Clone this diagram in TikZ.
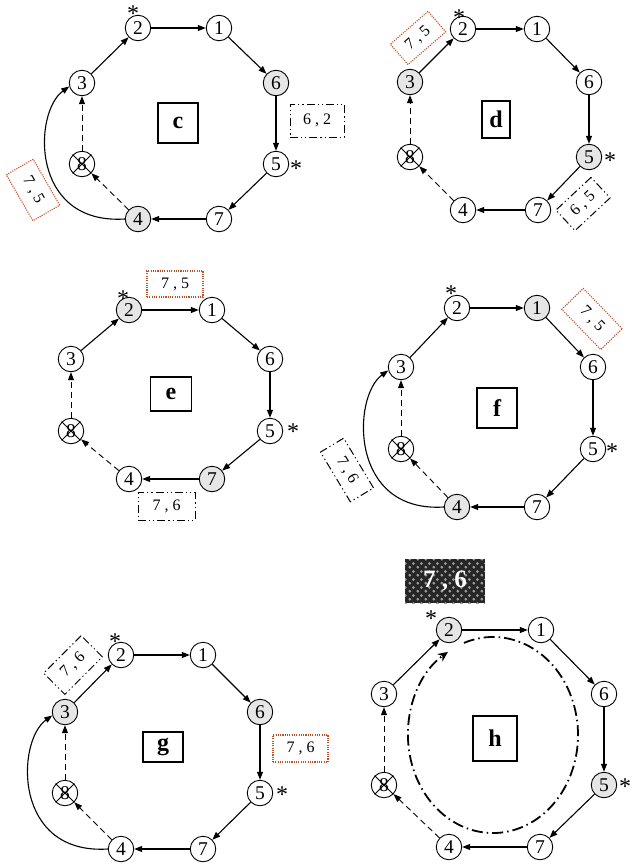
\documentclass[tikz,border=0pt]{standalone}
\usepackage{fontspec}
\setmainfont{Liberation Serif}
\usetikzlibrary{arrows.meta,patterns.meta}
\definecolor{boxred}{RGB}{192,80,40}
\definecolor{ndgray}{RGB}{230,230,230}
\tikzdeclarepattern{
  name=balls,
  type=uncolored,
  bounding box={(0pt,0pt) and (8pt,8pt)},
  tile size={(8pt,8pt)},
  code={\fill (2pt,2pt) circle (1.7pt); \fill (6pt,6pt) circle (1.7pt);}
}
\tikzset{
  nd/.style={circle, draw, line width=0.9pt, minimum size=25.5pt, inner sep=0pt, font=\fontsize{19.5}{19.5}\selectfont},
  gnd/.style={nd, fill=ndgray},
  lbl/.style={draw, line width=1.2pt, inner sep=0pt, font=\fontsize{24}{24}\selectfont\bfseries},
  ar/.style={-{Triangle[length=8pt,width=6pt]}, line width=1.1pt},
  dar/.style={-{Triangle[length=8pt,width=6pt]}, line width=0.9pt, dash pattern=on 6pt off 4pt},
  xline/.style={line width=0.8pt},
  redbox/.style={draw=boxred, line width=1.1pt, dash pattern=on 1.1pt off 1.2pt, inner sep=0pt, font=\fontsize{16}{16}\selectfont},
  ddbox/.style={draw, line width=1pt, dash pattern=on 8pt off 3pt on 1.2pt off 3pt on 1.2pt off 3pt, inner sep=0pt, font=\fontsize{16}{16}\selectfont},
  star/.style={inner sep=0pt, font=\fontsize{24}{24}\selectfont},
}
\newcommand\ringedges[1]{%
  \draw[ar] (#1-3) -- (#1-2);
  \draw[ar] (#1-2) -- (#1-1);
  \draw[ar] (#1-1) -- (#1-6);
  \draw[ar] (#1-6) -- (#1-5);
  \draw[ar] (#1-5) -- (#1-7);
  \draw[ar] (#1-7) -- (#1-4);
  \draw[dar] (#1-8) -- (#1-3);
  \draw[dar] (#1-4) -- (#1-8);
  \draw[xline] (#1-8.45) -- (#1-8.225) (#1-8.135) -- (#1-8.-45);
}
\newcommand\backarc[1]{%
  \draw[ar] (#1-4.west) .. controls +(-95,6) and +(-36,26) .. (#1-3.195);
}
\begin{document}
\begin{tikzpicture}[x=1pt,y=-1pt]
\useasboundingbox (0,0) rectangle (632,865);

% ---------------- panel c ----------------
\node[nd]  (c-2) at (138,28) {2};
\node[nd]  (c-1) at (219,28) {1};
\node[gnd] (c-6) at (276,83) {6};
\node[nd]  (c-5) at (276,164) {5};
\node[nd]  (c-7) at (219,219) {7};
\node[gnd] (c-4) at (138,219) {4};
\node[nd]  (c-8) at (82,164) {8};
\node[nd]  (c-3) at (82,83) {3};
\node[lbl, minimum width=40pt, minimum height=40pt] (c-l) at (178,123) {c};
\node[star] (c-s2) at (133,14) {*};
\node[star] (c-s5) at (296,169) {*};
\node[redbox, minimum width=53pt, minimum height=31pt, rotate=-60] (c-r) at (33,190) {7 , 5};
\node[ddbox, minimum width=54pt, minimum height=33pt] (c-d) at (317,120.5) {6 , 2};
\ringedges{c}
\backarc{c}

% ---------------- panel d ----------------
\node[nd]  (d-2) at (463,29) {2};
\node[nd]  (d-1) at (537,29) {1};
\node[nd]  (d-6) at (589,82) {6};
\node[gnd] (d-5) at (589,157) {5};
\node[nd]  (d-7) at (538,210) {7};
\node[nd]  (d-4) at (463,210) {4};
\node[nd]  (d-8) at (410,157) {8};
\node[gnd] (d-3) at (410,82) {3};
\node[lbl, minimum width=28pt, minimum height=37pt] (d-l) at (496,119.5) {d};
\node[star] (d-s2) at (459,18) {*};
\node[star] (d-s5) at (610,161) {*};
\node[redbox, minimum width=50pt, minimum height=27pt, rotate=41] (d-r) at (418,38) {7 , 5};
\node[ddbox, minimum width=48pt, minimum height=28pt, rotate=43] (d-d) at (583,204) {6 , 5};
\ringedges{d}

% ---------------- panel e ----------------
\node[gnd] (e-2) at (129,310) {2};
\node[nd]  (e-1) at (212,310) {1};
\node[nd]  (e-6) at (270,359) {6};
\node[nd]  (e-5) at (270,431) {5};
\node[gnd] (e-7) at (212,479) {7};
\node[nd]  (e-4) at (129,479) {4};
\node[nd]  (e-8) at (71,431) {8};
\node[nd]  (e-3) at (71,359) {3};
\node[lbl, minimum width=41pt, minimum height=34pt] (e-l) at (171,394) {e};
\node[star] (e-s2) at (123,299) {*};
\node[star] (e-s5) at (293,432) {*};
\node[redbox, minimum width=56pt, minimum height=26pt] (e-r) at (175,284) {7 , 5};
\node[ddbox, minimum width=57pt, minimum height=28pt] (e-d) at (166.5,506) {7 , 6};
\ringedges{e}

% ---------------- panel f ----------------
\node[nd]  (f-2) at (457,308) {2};
\node[gnd] (f-1) at (537,308) {1};
\node[nd]  (f-6) at (593,367) {6};
\node[nd]  (f-5) at (593,449) {5};
\node[nd]  (f-7) at (537,507) {7};
\node[gnd] (f-4) at (457,507) {4};
\node[nd]  (f-8) at (401,449) {8};
\node[nd]  (f-3) at (401,367) {3};
\node[lbl, minimum width=40pt, minimum height=40pt] (f-l) at (497,408) {f};
\node[star] (f-s2) at (451,294) {*};
\node[star] (f-s5) at (612,452) {*};
\node[redbox, minimum width=56pt, minimum height=30pt, rotate=-46] (f-r) at (592,319) {7 , 5};
\node[ddbox, minimum width=58pt, minimum height=27pt, rotate=-59] (f-d) at (347,470) {7 , 6};
\ringedges{f}
\backarc{f}

% ---------------- panel g ----------------
\node[nd]  (g-2) at (121,655) {2};
\node[nd]  (g-1) at (203,655) {1};
\node[gnd] (g-6) at (260,712) {6};
\node[nd]  (g-5) at (260,793) {5};
\node[nd]  (g-7) at (203,849) {7};
\node[nd]  (g-4) at (121,849) {4};
\node[nd]  (g-8) at (65,793) {8};
\node[gnd] (g-3) at (65,712) {3};
\node[lbl, minimum width=40pt, minimum height=30pt] (g-l) at (163,747) {g};
\node[star] (g-s2) at (115,642) {*};
\node[star] (g-s5) at (282,795) {*};
\node[ddbox, minimum width=53pt, minimum height=30pt, rotate=45] (g-d) at (73,665) {7 , 6};
\node[redbox, minimum width=55pt, minimum height=27pt] (g-r) at (300.5,748.5) {7 , 6};
\ringedges{g}
\backarc{g}

% ---------------- panel h ----------------
\node[gnd] (h-2) at (449,630) {2};
\node[nd]  (h-1) at (541,630) {1};
\node[nd]  (h-6) at (604,694) {6};
\node[gnd] (h-5) at (604,785) {5};
\node[nd]  (h-7) at (540,847) {7};
\node[nd]  (h-4) at (449,847) {4};
\node[nd]  (h-8) at (384,785) {8};
\node[nd]  (h-3) at (384,694) {3};
\node[lbl, minimum width=44pt, minimum height=45pt] (h-l) at (495,738.5) {h};
\node[star] (h-s2) at (431,619) {*};
\node[star] (h-s5) at (625,787) {*};
\node[fill=black!85, postaction={pattern=balls, pattern color=gray!80}, minimum width=80pt, minimum height=44pt, inner sep=0pt] (h-p) at (445,581) {};
\node[text=white, font=\fontsize{25}{25}\selectfont\bfseries] (h-pt) at (h-p) {7 , 6};
\ringedges{h}
\coordinate (h-c) at (493,735);
\draw[line width=1.8pt, dash pattern=on 11pt off 4pt on 1.5pt off 4pt, -{Stealth[length=10pt,width=9pt]}]
  ([shift={(-110:85 and 98)}]h-c) arc[start angle=-110, end angle=238, x radius=85, y radius=98];
\end{tikzpicture}
\end{document}
